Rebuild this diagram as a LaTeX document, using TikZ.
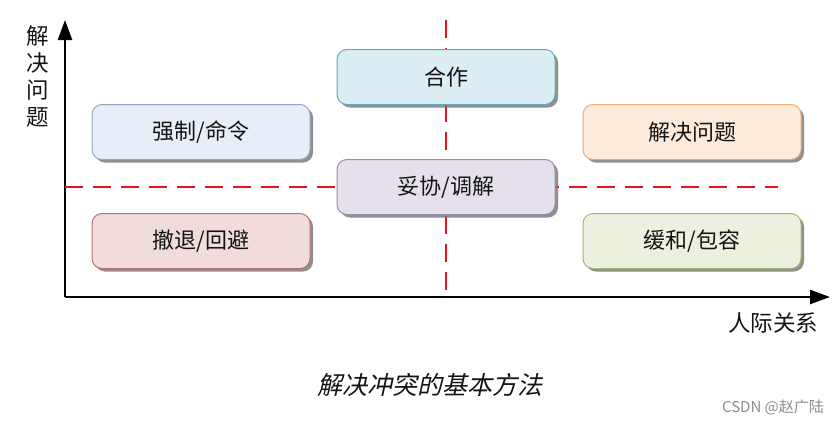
\documentclass[tikz,border=0pt]{standalone}
\usepackage{fontspec}
\setmainfont{Noto Sans CJK SC}
\newfontfamily\capfont[FakeSlant=0.22]{Noto Sans CJK SC}
\usetikzlibrary{arrows.meta,shadows}
\definecolor{skyfill}{RGB}{232,238,248}
\definecolor{skyline}{RGB}{150,166,196}
\definecolor{tealfill}{RGB}{218,238,243}
\definecolor{tealline}{RGB}{100,170,190}
\definecolor{peachfill}{RGB}{253,234,218}
\definecolor{peachline}{RGB}{238,170,115}
\definecolor{lilacfill}{RGB}{229,224,236}
\definecolor{lilacline}{RGB}{150,142,170}
\definecolor{rosefill}{RGB}{242,220,219}
\definecolor{roseline}{RGB}{190,110,110}
\definecolor{olivefill}{RGB}{235,241,222}
\definecolor{oliveline}{RGB}{165,182,110}
\definecolor{ink}{RGB}{20,20,20}
\definecolor{guide}{RGB}{230,20,30}
\tikzset{
  >={Triangle[length=20pt,width=14pt]},
  mode/.style={draw=#1line,fill=#1fill,rounded corners=10pt,line width=1pt,
    minimum width=218pt,minimum height=55pt,font=\fontsize{22}{26}\selectfont,
    text=ink,drop shadow={shadow xshift=3pt,shadow yshift=-3pt,fill=black!55,opacity=0.8}},
  axis/.style={->,line width=2.4pt,draw=black},
  split/.style={draw=guide,line width=2pt,dash pattern=on 18pt off 10pt},
  tag/.style={font=\fontsize{22.5}{27}\selectfont,text=ink,align=center},
}
\newcommand{\slsh}{/}

\begin{document}
\begin{tikzpicture}[x=1pt,y=-1pt]
    \useasboundingbox (0,0) rectangle (838,424);
    % axes
    \coordinate (o) at (65,297);
    \coordinate (ytip) at (65,20);
    \coordinate (xtip) at (830,297);
    \draw[axis] (o) -- (ytip);
    \draw[axis] (o) -- (xtip);
    % red split lines
    \coordinate (vtop) at (446,20);
    \coordinate (vbot) at (446,292);
    \coordinate (hleft) at (65,187);
    \coordinate (hright) at (778,187);
    \draw[split] (vtop) -- (vbot);
    \draw[split] (hleft) -- (hright);
    % strategy boxes
    \foreach \t/\c/\x/\y [count=\i] in {
      合作/teal/446/77,
      强制\slsh{}命令/sky/201/132,
      解决问题/peach/692/132,
      妥协\slsh{}调解/lilac/446/187,
      撤退\slsh{}回避/rose/201/241,
      缓和\slsh{}包容/olive/692/241}
    {
      \node[mode=\c] (m\i) at (\x,\y) {\t};
    }
    % labels
    \node[tag] (ylab) at (38,76) {解\\决\\问\\题};
    \node[tag] (xlab) at (773,323) {人际关系};
    \node[font=\capfont\fontsize{25}{30}\selectfont,text=ink] (cap) at (430,385) {解决冲突的基本方法};
    \node[font=\fontsize{15}{18}\selectfont,text=black!45] (mark) at (773,407) {CSDN @赵广陆};
  \end{tikzpicture}
\end{document}
